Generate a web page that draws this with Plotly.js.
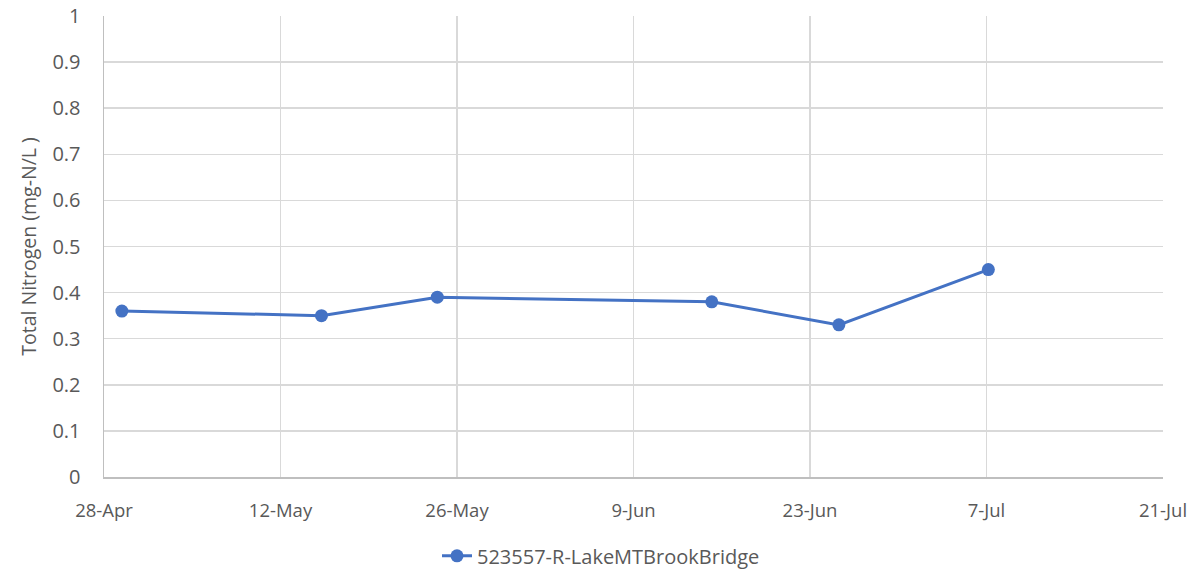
<!DOCTYPE html>
<html>
<head>
<meta charset="utf-8">
<script src="https://cdn.plot.ly/plotly-3.0.1.min.js"></script>
<style>html,body{margin:0;padding:0;background:#fff;}#chart{width:1202px;height:576px;}</style>
</head>
<body>
<div id="chart"></div>
<script>
const seriesName = "523557-R-LakeMTBrookBridge";
const sampleDates = ["2021-04-29 10:00", "2021-05-15 06:00", "2021-05-24 10:30", "2021-06-15 05:00", "2021-06-25 07:00", "2021-07-07 03:30"];
const totalNitrogen = [0.36, 0.35, 0.39, 0.38, 0.33, 0.45];
const xTickVals = ["2021-04-28", "2021-05-12", "2021-05-26", "2021-06-09", "2021-06-23", "2021-07-07", "2021-07-21"];
const xTickText = ["28-Apr", "12-May", "26-May", "9-Jun", "23-Jun", "7-Jul", "21-Jul"];
const yTickVals = [0, 0.1, 0.2, 0.3, 0.4, 0.5, 0.6, 0.7, 0.8, 0.9, 1];
const yTickText = ["0", "0.1", "0.2", "0.3", "0.4", "0.5", "0.6", "0.7", "0.8", "0.9", "1"];

const font = "Open Sans, Noto Sans, sans-serif";
const trace = {
  x: sampleDates, y: totalNitrogen, name: seriesName,
  type: "scatter", mode: "lines+markers",
  line: {color: "#4472C4", width: 3},
  marker: {color: "#4472C4", size: 13}
};
const layout = {
  width: 1202, height: 576,
  margin: {l: 104, r: 39, t: 16, b: 99},
  paper_bgcolor: "#fff", plot_bgcolor: "#fff",
  font: {family: font, color: "#595959", size: 18},
  showlegend: true,
  legend: {orientation: "h", xref: "container", yref: "container", x: 0.5, xanchor: "center", y: 0.035, yanchor: "middle", font: {size: 20, color: "#595959"}},
  xaxis: {
    type: "date", range: ["2021-04-28", "2021-07-21"], automargin: false,
    tickmode: "array", tickvals: xTickVals, ticktext: xTickText,
    showgrid: true, gridcolor: "#d9d9d9", gridwidth: 1.5,
    showline: true, linecolor: "#bfbfbf", linewidth: 1.5,
    ticks: "outside", ticklen: 16, tickcolor: "rgba(0,0,0,0)",
    zeroline: false, tickfont: {size: 18.5, color: "#595959"}
  },
  yaxis: {
    range: [0, 1], tickmode: "array", tickvals: yTickVals, ticktext: yTickText, automargin: false,
    showgrid: true, gridcolor: "#d9d9d9", gridwidth: 1.5,
    showline: true, linecolor: "#bfbfbf", linewidth: 1.5,
    zeroline: false, ticks: "outside", ticklen: 18, tickcolor: "rgba(0,0,0,0)",
    tickfont: {size: 20, color: "#595959"},
    title: {text: "Total Nitrogen (mg-N/L )", font: {size: 19.5, color: "#595959"}, standoff: 10}
  }
};
Plotly.newPlot("chart", [trace], layout, {displayModeBar: false, staticPlot: true});
</script>
</body>
</html>
